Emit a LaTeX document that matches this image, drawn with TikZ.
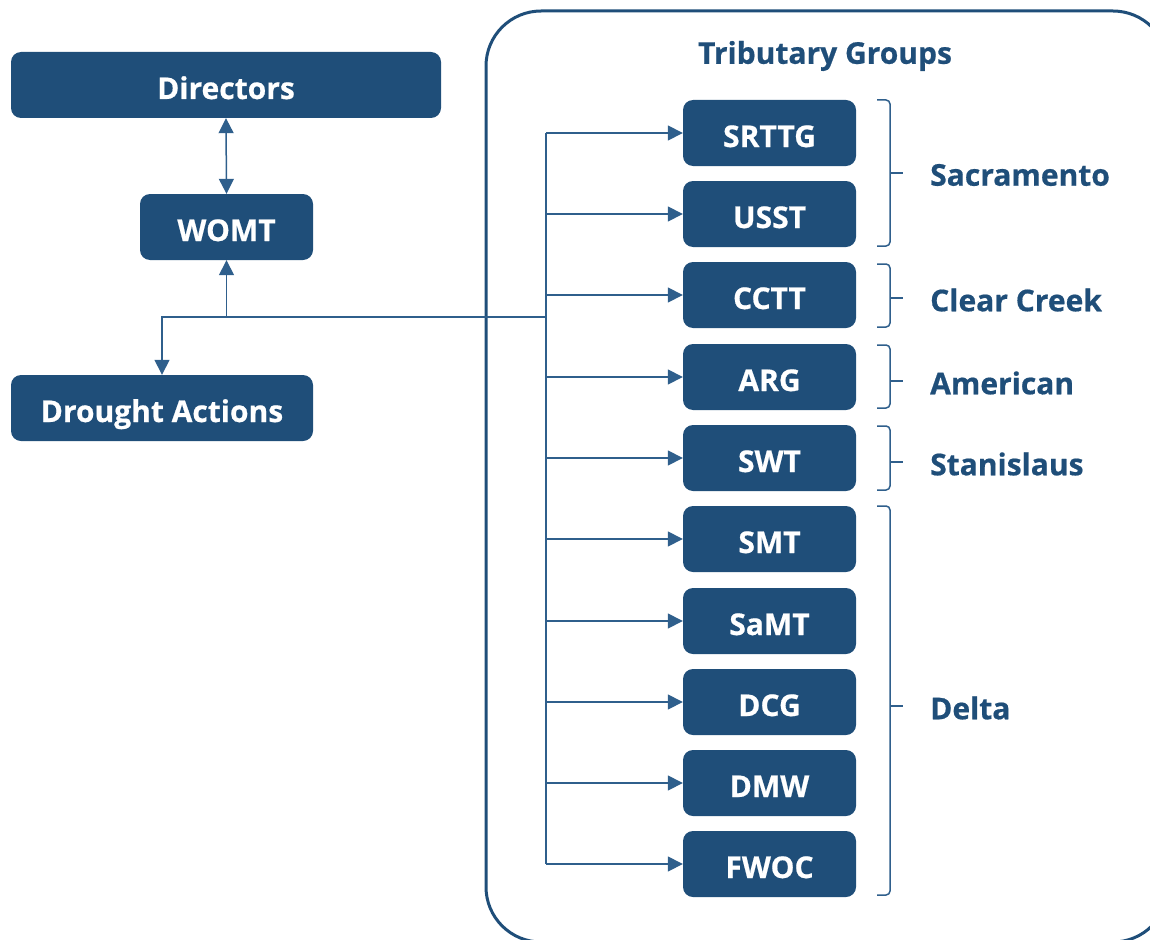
\documentclass[tikz,border=0pt]{standalone}
\usepackage{fontspec}
\setmainfont{Open Sans}[BoldFeatures={FakeBold=0.6}]
\usetikzlibrary{arrows.meta,calc}
\definecolor{navy}{HTML}{1F4E79}
\definecolor{lnav}{HTML}{2F5F8C}
\tikzset{
  box/.style={fill=navy,rounded corners=10pt,text=white,font=\fontsize{30}{34}\selectfont\bfseries,inner sep=0pt,minimum height=66pt,text height=28pt,text depth=0pt},
  grp/.style={box,minimum width=173pt},
  lbl/.style={text=navy,font=\fontsize{30}{34}\selectfont\bfseries,inner sep=0pt,anchor=west},
  conn/.style={draw=lnav,line width=1.5pt},
  arr/.style={conn,-{Triangle[length=15pt,width=15pt]}},
  darr/.style={conn,{Triangle[length=15pt,width=15pt]}-{Triangle[length=15pt,width=15pt]}},
  brk/.style={draw=lnav,line width=1.5pt,rounded corners=4pt},
}
\begin{document}
\begin{tikzpicture}[x=1pt,y=-1pt]
\useasboundingbox (0,0) rectangle (1150,939);
\begin{scope}
\clip (0,0) rectangle (1150,939);
\draw[navy,line width=3pt,rounded corners=55pt] (486,11) rectangle (1168,942);
\end{scope}
\node[text=navy,font=\fontsize{30}{34}\selectfont\bfseries,inner sep=0pt] (title) at (825,56) {Tributary Groups};

\node[box,minimum width=430pt] (dir) at (226,85) {Directors};
\node[box,minimum width=173pt] (womt) at (226.5,227) {WOMT};
\node[box,minimum width=302pt] (dro) at (162,408) {Drought Actions};

\draw[darr] (dir.south) -- (womt.north);
\coordinate (j) at (226.5,317);
\coordinate (tr) at (546,317);
\draw[arr] (j) -- (womt.south);
\draw[arr] (tr) -- (162,317) -- (dro.north);

\foreach \n/\t/\y in {a/SRTTG/133,b/USST/214,c/CCTT/295,d/ARG/377,e/SWT/458,f/SMT/539,g/SaMT/621,h/DCG/702,i/DMW/783,k/FWOC/864}{
  \node[grp] (\n) at (769.5,\y) {\t};
  \draw[arr] (tr |- \n.west) -- (\n.west);
}
\draw[conn] (tr |- a.west) -- (tr |- k.west);

% brackets
\foreach \ya/\ym/\yb/\nm/\tx in {100/173/246/sac/Sacramento,264/298/327/clc/Clear Creek,345/381/408/ame/American,426/462/490/sta/Stanislaus,506/706/895/del/Delta}{
  \draw[brk] (877,\ya) -- (890,\ya) -- (890,\yb) -- (877,\yb);
  \draw[conn] (890,\ym) -- (903,\ym);
  \node[lbl] (\nm) at (930,\ym+2) {\tx};
}
\end{tikzpicture}
\end{document}
